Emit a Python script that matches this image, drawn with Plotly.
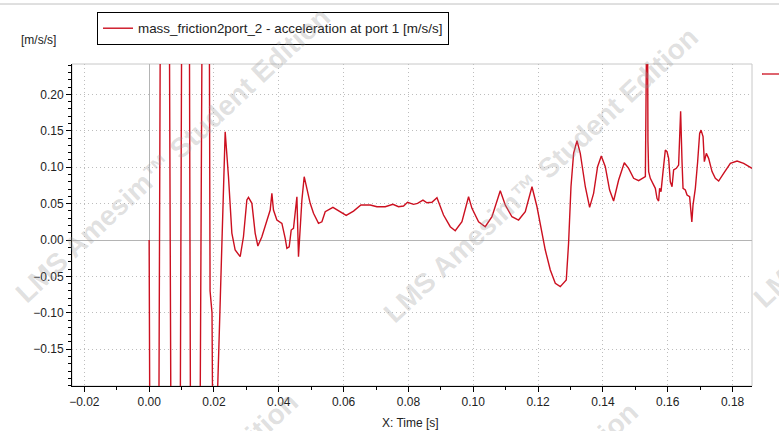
import plotly.graph_objects as go

# ---------------- data ----------------
time_s = [
    0.0, 0.0016, 0.0048, 0.0082, 0.0114, 0.0138, 0.0182,
    0.0186, 0.0188, 0.0194, 0.0200, 0.0206, 0.0211, 0.0217, 0.0224,
    0.02346, 0.02448, 0.02552, 0.02654, 0.02809, 0.0291, 0.03015, 0.03065,
    0.0317, 0.03272, 0.03355, 0.03478, 0.03633, 0.03735, 0.03787, 0.03836,
    0.03941, 0.04096, 0.04198, 0.0425, 0.04321, 0.04383, 0.04454, 0.04559,
    0.04608, 0.0466, 0.04713, 0.04784, 0.04867, 0.04969, 0.05071, 0.05225,
    0.0533, 0.05432, 0.0567, 0.05843, 0.0608, 0.06306, 0.06534, 0.06821,
    0.07028, 0.07284, 0.07522, 0.07694, 0.07849, 0.07972, 0.08157, 0.08281,
    0.08448, 0.08571, 0.08725, 0.0888, 0.09083, 0.0929, 0.09444, 0.09651,
    0.09855, 0.0996, 0.10164, 0.1037, 0.10577, 0.10833, 0.10988, 0.11194,
    0.11398, 0.11605, 0.11812, 0.11966, 0.1217, 0.12222, 0.12377, 0.12531,
    0.12685, 0.1287, 0.12941, 0.13015, 0.13096, 0.13201, 0.13302, 0.13457,
    0.1359, 0.13713, 0.13836, 0.1395, 0.14074, 0.14207, 0.1433, 0.14485,
    0.1466, 0.14793, 0.14948, 0.15102, 0.1531, 0.1533, 0.1537, 0.1539,
    0.15411, 0.15463, 0.15546, 0.15617, 0.1567, 0.15719, 0.1575, 0.15793,
    0.15855, 0.15926, 0.15978, 0.16028, 0.1608, 0.16133, 0.16182, 0.16265,
    0.16336, 0.16367, 0.16398, 0.16441, 0.16472, 0.16543, 0.16596, 0.16676,
    0.16719, 0.16744, 0.1678, 0.16852, 0.16923, 0.16985, 0.17028, 0.1709,
    0.1713, 0.17191, 0.17262, 0.17367, 0.17469, 0.17571, 0.17725, 0.17932,
    0.18139, 0.18343, 0.18602,
]
accel = [
    0.0, -2.0, 2.0, -2.0, 2.0, -2.0, 2.0,
    0.25, -0.07, -0.10, -0.21, -1.0, -0.21, -0.119, 0.018,
    0.1488, 0.087, 0.0096, -0.0137, -0.0229, 0.0045, 0.055, 0.0587,
    0.0504, 0.0092, -0.0082, 0.0045, 0.0275, 0.0412, 0.0641, 0.0412,
    0.0275, 0.0229, 0.0023, -0.0114, -0.0092, 0.0137, 0.0161, 0.0595,
    -0.0229, 0.0229, 0.0549, 0.087, 0.0687, 0.0504, 0.0367, 0.0229,
    0.0251, 0.0389, 0.0449, 0.0402, 0.0339, 0.0398, 0.0481, 0.0481,
    0.0457, 0.0457, 0.049, 0.0457, 0.0467, 0.0518, 0.049, 0.0504,
    0.0549, 0.0512, 0.0518, 0.0581, 0.0343, 0.0183, 0.0128, 0.0251,
    0.0595, 0.0435, 0.0251, 0.0183, 0.032, 0.0677, 0.0481, 0.032,
    0.0275, 0.0389, 0.0732, 0.0457, 0.0, -0.0137, -0.0412, -0.0595,
    -0.0641, -0.0549, -0.0045, 0.0732, 0.1191, 0.1364, 0.1191, 0.0732,
    0.0449, 0.0641, 0.1007, 0.1154, 0.1007, 0.0687, 0.0536, 0.0824,
    0.1062, 0.0985, 0.0848, 0.0815, 0.087, 0.40, 0.40, 0.135,
    0.094, 0.0848, 0.078, 0.071, 0.057, 0.0536, 0.071, 0.0664,
    0.094, 0.1236, 0.1213, 0.1122, 0.08, 0.0732, 0.0962, 0.0985,
    0.103, 0.137, 0.177, 0.1076, 0.071, 0.0687, 0.0618, 0.0595,
    0.0389, 0.025, 0.048, 0.071, 0.1076, 0.1465, 0.151, 0.142,
    0.1076, 0.119, 0.1122, 0.094, 0.0848, 0.081, 0.0916, 0.1053,
    0.1085, 0.1053, 0.0985,
]
x_ticks = [-0.02, 0.00, 0.02, 0.04, 0.06, 0.08, 0.10, 0.12, 0.14, 0.16, 0.18]
y_ticks = [-0.15, -0.10, -0.05, 0.00, 0.05, 0.10, 0.15, 0.20]
series_name = "mass_friction2port_2 - acceleration at port 1 [m/s/s]"
y_unit = "[m/s/s]"
x_title = "X: Time [s]"
watermark = "LMS Amesim\u2122 Student Edition"

# ---------------- figure ----------------
W, H = 779, 431
ML, MR, MT, MB = 72, 27, 64, 45
PW, PH = W - ML - MR, H - MT - MB
FONT = "Liberation Sans"
RED = "#cc1020"


def px(xp):
    return (xp - ML) / PW


def py(yp):
    return (H - MB - yp) / PH


fig = go.Figure()
fig.add_trace(go.Scatter(
    x=time_s, y=accel, mode="lines", name=series_name,
    line=dict(color=RED, width=1.4),
))

axis_common = dict(
    showline=True, linecolor="black", linewidth=1,
    ticks="outside", ticklen=5, tickcolor="black", tickwidth=1,
    showgrid=True, gridcolor="#bdbdbd", griddash="1px,3px", gridwidth=1,
    zeroline=True, zerolinecolor="#b4b4b4", zerolinewidth=1,
    tickfont=dict(family=FONT, size=12, color="#222"),
    tickformat=".2f", tickangle=0, automargin=False,
)
fig.update_xaxes(
    range=[-0.0238, 0.186], tickvals=x_ticks, **axis_common,
    minor=dict(dtick=0.01, tick0=0, ticks="outside", ticklen=3,
               tickcolor="black", showgrid=False),
)
fig.update_yaxes(
    range=[-0.2005, 0.2418], tickvals=y_ticks, **axis_common,
    minor=dict(dtick=0.01, tick0=0, ticks="outside", ticklen=3,
               tickcolor="black", showgrid=False),
)

shapes = [
    dict(type="rect", xref="paper", yref="paper", x0=0, y0=0, x1=1, y1=1,
         line=dict(color="#c8c8c8", width=1), layer="below"),
    dict(type="line", xref="paper", yref="paper", x0=px(0), x1=px(W),
         y0=py(4), y1=py(4), line=dict(color="#c0c0c0", width=1)),
    dict(type="line", xref="paper", yref="paper", x0=px(762), x1=px(779),
         y0=py(74), y1=py(74), line=dict(color=RED, width=1.3)),
]

annotations = [
    dict(text=y_unit, xref="paper", yref="paper", x=px(38), y=py(40),
         showarrow=False, xanchor="center", yanchor="middle",
         font=dict(family=FONT, size=12, color="#222")),
    dict(text=x_title, xref="paper", yref="paper", x=px(410), y=py(423),
         showarrow=False, xanchor="center", yanchor="middle",
         font=dict(family=FONT, size=12, color="#222")),
]
for cx, cy in [(172, 155), (540, 175), (140, 540), (480, 550), (910, 160)]:
    annotations.append(dict(
        text=watermark, xref="paper", yref="paper", x=px(cx), y=py(cy),
        showarrow=False, textangle=-43, xanchor="center", yanchor="middle",
        font=dict(family=FONT, size=28, color="rgba(150,150,150,0.30)",
                  weight="bold"),
    ))

fig.update_layout(
    width=W, height=H,
    margin=dict(l=ML, r=MR, t=MT, b=MB, pad=0, autoexpand=False),
    paper_bgcolor="white", plot_bgcolor="white",
    showlegend=True,
    legend=dict(
        x=px(97), y=py(12), xanchor="left", yanchor="top",
        bordercolor="black", borderwidth=1, bgcolor="white",
        font=dict(family=FONT, size=13.4, color="#222"),
        itemwidth=30,
    ),
    shapes=shapes, annotations=annotations,
)

fig.write_html(
    "out.html",
    config={"displayModeBar": False},
    post_script="document.body.style.margin='0';document.body.style.padding='0';",
)
